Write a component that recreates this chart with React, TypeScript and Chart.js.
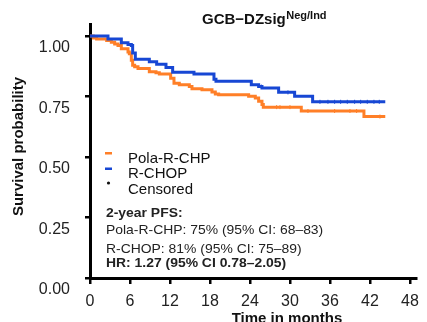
import React, { useEffect, useRef } from 'react';
import { Chart, registerables } from 'chart.js';

Chart.register(...registerables);

// ---------- data ----------
const xTickValues = [0, 6, 12, 18, 24, 30, 36, 42, 48];
const yTickValues = [0, 0.25, 0.5, 0.75, 1.0];
const seriesNames = ['Pola-R-CHP', 'R-CHOP'];
const seriesColors = ['#FF7F27', '#1747D4'];

const polaTimes = [0, 0.5, 1.0, 2.5, 3.2, 3.7, 4.2, 4.7, 5.7, 5.9, 6.2, 6.4, 6.7, 7.2, 8.9, 9.9, 10.4, 12.1, 12.6, 13.4, 14.9, 15.3, 16.8, 18.3, 18.8, 19.3, 23.8, 24.8, 25.3, 25.8, 26.0, 31.7, 41.1];
const polaSurv = [1.0, 0.992, 0.988, 0.981, 0.974, 0.967, 0.961, 0.947, 0.934, 0.927, 0.9, 0.879, 0.873, 0.866, 0.852, 0.848, 0.843, 0.825, 0.805, 0.798, 0.791, 0.782, 0.778, 0.768, 0.76, 0.757, 0.751, 0.744, 0.73, 0.717, 0.706, 0.69, 0.667];
const rchopTimes = [0, 2.7, 4.7, 5.7, 6.2, 6.4, 6.8, 8.9, 10.0, 11.4, 12.4, 15.6, 18.6, 18.9, 24.2, 25.3, 25.8, 28.3, 30.7, 33.4];
const rchopSurv = [1.0, 0.988, 0.972, 0.965, 0.961, 0.93, 0.904, 0.893, 0.883, 0.87, 0.85, 0.843, 0.821, 0.813, 0.798, 0.791, 0.785, 0.767, 0.751, 0.728];
const followUpEnd = 44.3;

const polaCensorTimes = [28.0, 28.5, 30.0, 32.7, 36.7, 39.0, 40.0, 43.5];
const rchopCensorTimes = [25.7, 29.7, 34.5, 35.7, 36.7, 37.6, 38.6, 39.7, 40.6, 41.6, 42.6, 43.4];

const titleMain = 'GCB\u2212DZsig';
const titleSup = 'Neg/Ind';
const xAxisTitle = 'Time in months';
const yAxisTitle = 'Survival probability';
const censoredLabel = 'Censored';
const annotationLines = [
  { text: '2-year PFS:', bold: true },
  { text: 'Pola-R-CHP: 75% (95% CI: 68\u201383)', bold: false },
  { text: 'R-CHOP: 81% (95% CI: 75\u201389)', bold: false },
  { text: 'HR: 1.27 (95% CI 0.78\u20132.05)', bold: true },
];

const FAMILY = '"Liberation Sans", Arial, Helvetica, sans-serif';

function stepPoints(times: number[], surv: number[], end: number) {
  const pts = times.map((t, i) => ({ x: t, y: surv[i] }));
  pts.push({ x: end, y: surv[surv.length - 1] });
  return pts;
}

function survAt(times: number[], surv: number[], t: number) {
  let s = surv[0];
  for (let i = 0; i < times.length; i++) if (times[i] <= t) s = surv[i];
  return s;
}

const textPlugin = {
  id: 'textPlugin',
  afterDraw(chart: any) {
    const ctx = chart.ctx as CanvasRenderingContext2D;
    ctx.save();
    ctx.textBaseline = 'alphabetic';
    ctx.textAlign = 'left';
    ctx.fillStyle = '#111';

    // title
    ctx.font = `bold 15px ${FAMILY}`;
    ctx.fillText(titleMain, 202, 24);
    const w = ctx.measureText(titleMain).width;
    ctx.font = `bold 11px ${FAMILY}`;
    ctx.fillText(titleSup, 202 + w + 0.5, 18.5);

    // x axis title
    ctx.font = `bold 15px ${FAMILY}`;
    ctx.textAlign = 'center';
    ctx.fillText(xAxisTitle, 287, 323);

    // y axis title
    ctx.save();
    ctx.translate(23, 146.5);
    ctx.rotate(-Math.PI / 2);
    ctx.textAlign = 'center';
    ctx.fillText(yAxisTitle, 0, 0);
    ctx.restore();

    // legend
    ctx.textAlign = 'left';
    ctx.font = `15px ${FAMILY}`;
    const legendY = [162.5, 178, 193.5];
    seriesNames.forEach((name, i) => {
      ctx.fillStyle = seriesColors[i];
      ctx.fillRect(105, legendY[i] - 10.5, 7, 2.5);
      ctx.fillStyle = '#111';
      ctx.fillText(name, 128, legendY[i]);
    });
    ctx.beginPath();
    ctx.arc(108.5, legendY[2] - 10.5, 1.6, 0, Math.PI * 2);
    ctx.fill();
    ctx.fillText(censoredLabel, 128, legendY[2]);

    // annotation
    const annY = [216.7, 233.5, 253, 266.7];
    annotationLines.forEach((ln, i) => {
      ctx.save();
      ctx.font = `${ln.bold ? 'bold ' : ''}13px ${FAMILY}`;
      ctx.fillStyle = '#222';
      ctx.translate(106, annY[i]);
      ctx.scale(1.07, 1);
      ctx.fillText(ln.text, 0, 0);
      ctx.restore();
    });
    ctx.restore();
  },
};

export default function App() {
  const ref = useRef<HTMLCanvasElement | null>(null);

  useEffect(() => {
    document.body.style.margin = '0';
    const canvas = ref.current;
    if (!canvas) return;

    const polaCensor = polaCensorTimes.map((t) => ({ x: t, y: survAt(polaTimes, polaSurv, t) }));
    const rchopCensor = rchopCensorTimes.map((t) => ({ x: t, y: survAt(rchopTimes, rchopSurv, t) }));

    const chart = new Chart(canvas, {
      type: 'line',
      data: {
        datasets: [
          {
            label: seriesNames[1],
            data: stepPoints(rchopTimes, rchopSurv, followUpEnd),
            borderColor: seriesColors[1],
            borderWidth: 3,
            stepped: 'before',
            pointRadius: 0,
            borderJoinStyle: 'miter',
            fill: false,
          },
          {
            label: seriesNames[0],
            data: stepPoints(polaTimes, polaSurv, followUpEnd),
            borderColor: seriesColors[0],
            borderWidth: 3,
            stepped: 'before',
            pointRadius: 0,
            borderJoinStyle: 'miter',
            fill: false,
          },
          {
            label: 'censor-rchop',
            data: rchopCensor,
            showLine: false,
            pointStyle: 'line',
            rotation: 90,
            pointRadius: 2,
            borderWidth: 1,
            borderColor: seriesColors[1],
            backgroundColor: seriesColors[1],
          },
          {
            label: 'censor-pola',
            data: polaCensor,
            showLine: false,
            pointStyle: 'line',
            rotation: 90,
            pointRadius: 2,
            borderWidth: 1,
            borderColor: seriesColors[0],
            backgroundColor: seriesColors[0],
          },
        ],
      },
      options: {
        responsive: false,
        animation: false,
        devicePixelRatio: 1,
        layout: { padding: { left: 0, top: 20, right: 9, bottom: 0 } },
        plugins: { legend: { display: false }, tooltip: { enabled: false }, title: { display: false } },
        scales: {
          x: {
            type: 'linear',
            min: 0,
            max: 48.9,
            afterBuildTicks: (s: any) => {
              s.ticks = xTickValues.map((v) => ({ value: v }));
            },
            afterFit: (s: any) => {
              s.height = 44;
            },
            grid: { drawOnChartArea: false, drawTicks: true, tickLength: 6, color: '#000', lineWidth: 2.5 },
            border: { display: true, color: '#000', width: 3 },
            ticks: {
              font: { size: 16, family: FAMILY },
              color: '#222',
              padding: 8,
              maxRotation: 0,
              autoSkip: false,
              callback: (v: any) => String(v),
            },
          },
          y: {
            type: 'linear',
            min: 0,
            max: 1.047,
            afterBuildTicks: (s: any) => {
              s.ticks = yTickValues.map((v) => ({ value: v }));
            },
            afterFit: (s: any) => {
              s.width = 90;
            },
            grid: { drawOnChartArea: false, drawTicks: true, tickLength: 5, color: '#000', lineWidth: 2.5 },
            border: { display: true, color: '#000', width: 3 },
            ticks: {
              font: { size: 16, family: FAMILY },
              color: '#222',
              padding: 15,
              labelOffset: 12,
              autoSkip: false,
              callback: (v: any) => Number(v).toFixed(2),
            },
          },
        },
      },
      plugins: [textPlugin],
    } as any);

    return () => chart.destroy();
  }, []);

  return (
    <div style={{ position: 'absolute', left: 0, top: 0, width: 427, height: 322 }}>
      <canvas ref={ref} width={427} height={322} style={{ display: 'block', width: 427, height: 322 }} />
    </div>
  );
}
